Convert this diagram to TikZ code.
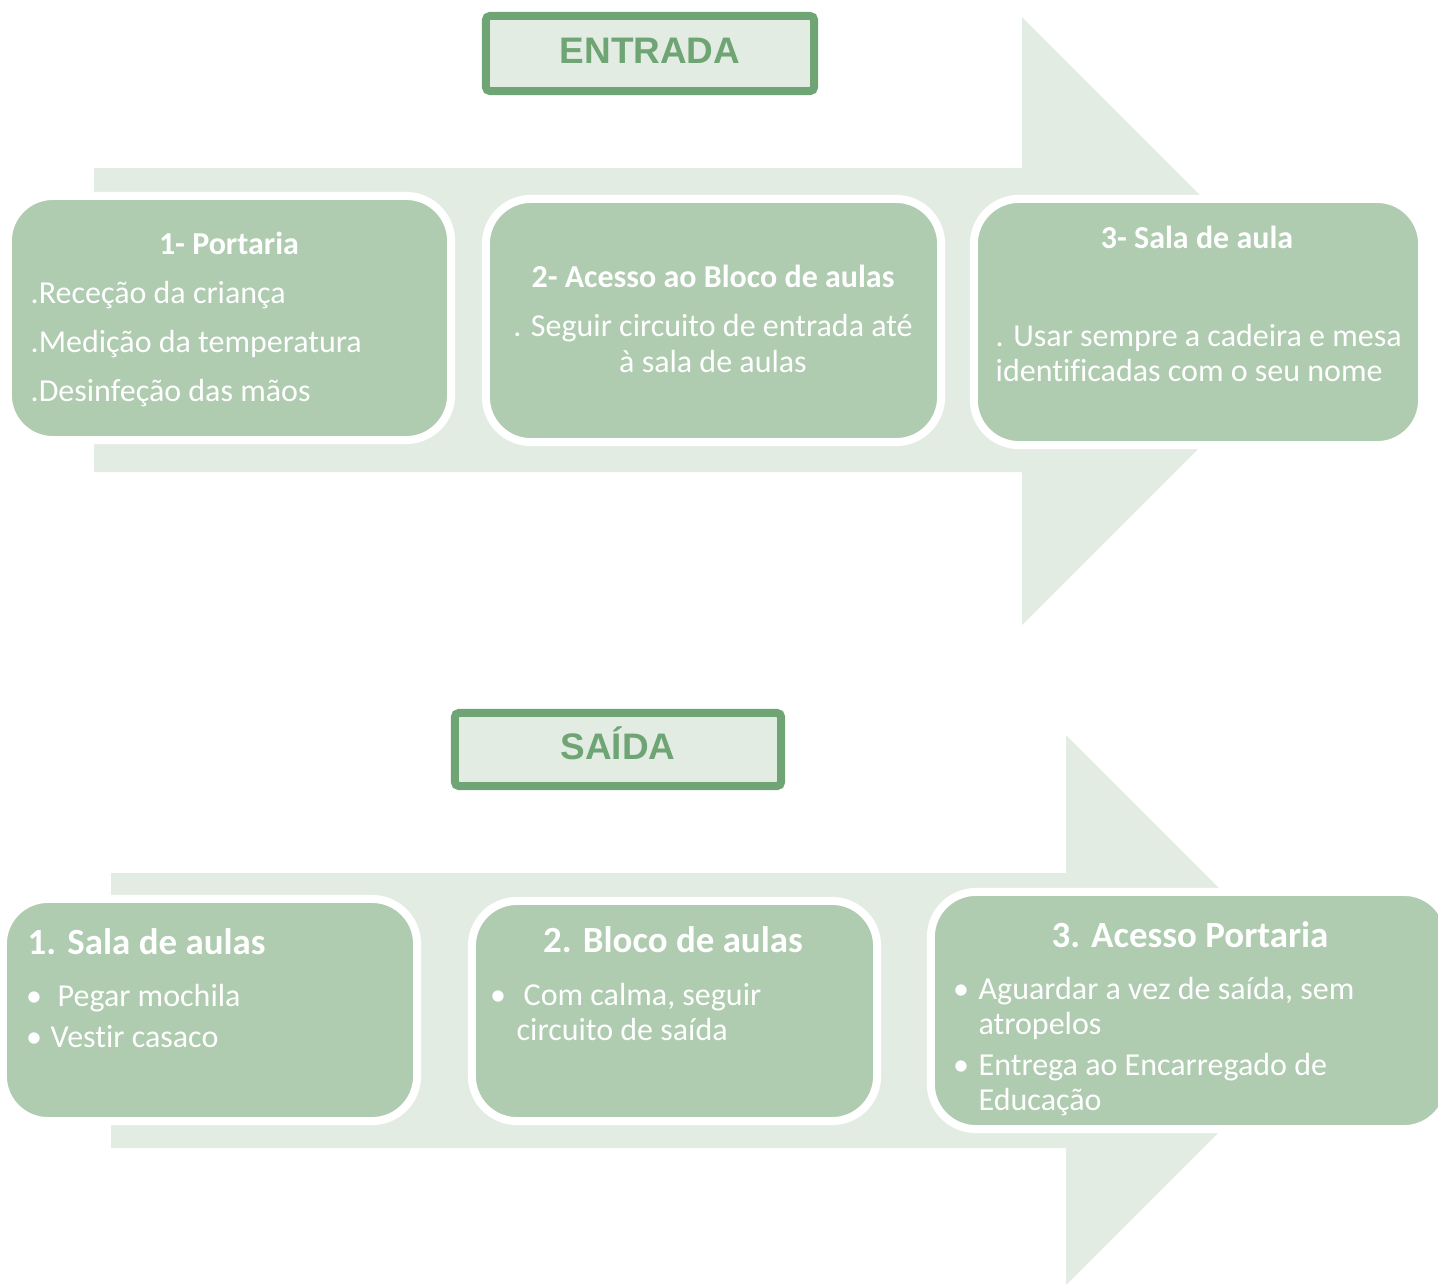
\documentclass[tikz,border=0pt]{standalone}
\usepackage{fontspec}
\setmainfont[Ligatures=NoCommon]{Carlito}
\newfontfamily\titlefont{Liberation Sans}
\usepackage{tikz}
\definecolor{arrowgreen}{HTML}{E3ECE3}
\definecolor{boxgreen}{HTML}{AFCBB0}
\definecolor{titlegreen}{HTML}{6FA474}
\begin{document}
\begin{tikzpicture}[x=0.01cm,y=-0.01cm,
    flowarrow/.style={fill=arrowgreen},
    stepbox/.style={draw=white, fill=boxgreen, line width=0.08cm, rounded corners=0.45cm},
    titlebox/.style={draw=titlegreen, fill=arrowgreen, line width=0.08cm, rounded corners=0.04cm,
      text=titlegreen, font=\titlefont\bfseries\fontsize{10.5}{12}\selectfont,
      text height=0.72em, text depth=0.05cm},
    headtxt/.style={text=white, inner sep=0, font=\bfseries\fontsize{9.1}{11}\selectfont},
    bighead/.style={text=white, inner sep=0, font=\bfseries\fontsize{10.5}{12}\selectfont},
    bodytxt/.style={text=white, inner sep=0, font=\fontsize{9.1}{11}\selectfont}]
      \useasboundingbox (0,0) rectangle (1438,1284);
      \clip (0,0) rectangle (1438,1284);
      % entrada
      \fill [flowarrow] (94,168) -- (1022,168) -- (1022,17) -- (1326,321) -- (1022,625) -- (1022,472) -- (94,472) -- cycle;
      \node [titlebox, minimum width=3.28cm, minimum height=0.75cm] (entrada) at (650,53.5) {ENTRADA};
      \node [stepbox, minimum width=4.43cm, minimum height=2.44cm] (portaria) at (229.5,318) {};
      \node [stepbox, minimum width=4.55cm, minimum height=2.43cm] (bloco) at (713.5,320.5) {};
      \node [stepbox, minimum width=4.48cm, minimum height=2.46cm] (sala) at (1198,322) {};
      \node [headtxt, anchor=base] (portariaT) at (229,254) {1- Portaria};
      \node [bodytxt, anchor=base west] (portariaA) at (30,303) {.Receção da criança};
      \node [bodytxt, anchor=base west] (portariaB) at (30,352) {.Medição da temperatura};
      \node [bodytxt, anchor=base west] (portariaC) at (30,401) {.Desinfeção das mãos};
      \node [headtxt, anchor=base] (blocoT) at (713,287) {2- Acesso ao Bloco de aulas};
      \node [bodytxt, anchor=base] (blocoA) at (713,336) {. Seguir circuito de entrada até};
      \node [bodytxt, anchor=base] (blocoB) at (713,372) {à sala de aulas};
      \node [headtxt, anchor=base] (salaT) at (1197,248) {3- Sala de aula};
      \node [bodytxt, anchor=base west] (salaA) at (995,346) {. Usar sempre a cadeira e mesa};
      \node [bodytxt, anchor=base west] (salaB) at (995,381) {identificadas com o seu nome};
      % saida
      \fill [flowarrow] (111,873) -- (1066,873) -- (1066,735) -- (1341,1010) -- (1066,1285) -- (1066,1148) -- (111,1148) -- cycle;
      \node [titlebox, minimum width=3.26cm, minimum height=0.73cm] (saida) at (618,749.5) {SAÍDA};
      \node [stepbox, minimum width=4.14cm, minimum height=2.22cm] (aulas) at (210,1010) {};
      \node [stepbox, minimum width=4.05cm, minimum height=2.20cm] (blocoS) at (674.5,1011) {};
      \node [stepbox, minimum width=5.18cm, minimum height=2.37cm] (acesso) at (1190,1010.5) {};
      \node [bighead, anchor=base west] (aulasT) at (27,954) {1. Sala de aulas};
      \node [bodytxt, anchor=base] (aulasP) at (34,1006) {•};
      \node [bodytxt, anchor=base west] (aulasA) at (57,1006) {Pegar mochila};
      \node [bodytxt, anchor=base] (aulasQ) at (34,1047) {•};
      \node [bodytxt, anchor=base west] (aulasB) at (50,1047) {Vestir casaco};
      \node [bighead, anchor=base] (blocoST) at (673,952) {2. Bloco de aulas};
      \node [bodytxt, anchor=base] (blocoSP) at (498,1005) {•};
      \node [bodytxt, anchor=base west] (blocoSA) at (523,1005) {Com calma, seguir};
      \node [bodytxt, anchor=base west] (blocoSB) at (516,1040) {circuito de saída};
      \node [bighead, anchor=base] (acessoT) at (1190,947) {3. Acesso Portaria};
      \node [bodytxt, anchor=base] (acessoP) at (961,999) {•};
      \node [bodytxt, anchor=base west] (acessoA) at (978,999) {Aguardar a vez de saída, sem};
      \node [bodytxt, anchor=base west] (acessoB) at (978,1034) {atropelos};
      \node [bodytxt, anchor=base] (acessoQ) at (961,1075) {•};
      \node [bodytxt, anchor=base west] (acessoC) at (978,1075) {Entrega ao Encarregado de};
      \node [bodytxt, anchor=base west] (acessoD) at (978,1110) {Educação};
\end{tikzpicture}
\end{document}
